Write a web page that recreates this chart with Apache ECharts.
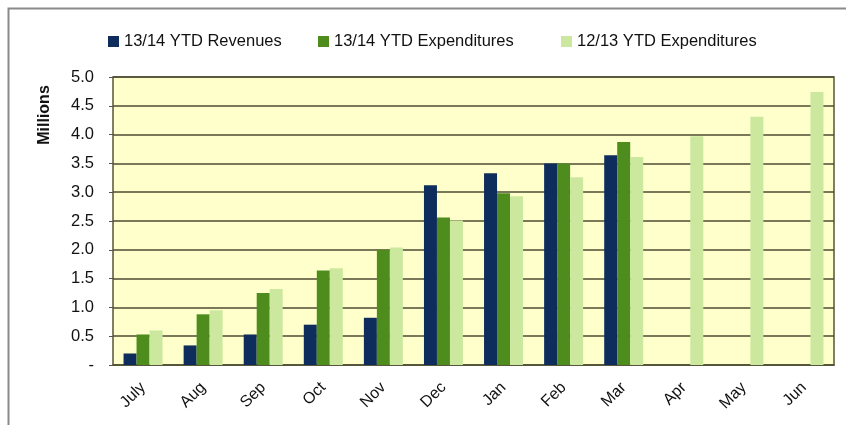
<!DOCTYPE html>
<html>
<head>
<meta charset="utf-8">
<script src="https://cdn.jsdelivr.net/npm/echarts@6/dist/echarts.min.js"></script>
<style>
html,body{margin:0;padding:0;background:#fff;}
#c{width:846px;height:425px;}
</style>
</head>
<body>
<div id="c"></div>
<script>
var categories = ['July','Aug','Sep','Oct','Nov','Dec','Jan','Feb','Mar','Apr','May','Jun'];
var revenues1314 = [0.20,0.34,0.53,0.70,0.82,3.12,3.33,3.50,3.64,null,null,null];
var expend1314 = [0.53,0.88,1.25,1.64,2.00,2.56,2.98,3.50,3.87,null,null,null];
var expend1213 = [0.60,0.95,1.32,1.68,2.04,2.51,2.93,3.26,3.61,3.97,4.31,4.74];
var seriesNames = ['13/14 YTD Revenues','13/14 YTD Expenditures','12/13 YTD Expenditures'];
var yTicks = {min:0,max:5,interval:0.5};

var FONT = '"Liberation Sans", Arial, sans-serif';
var legendLefts = [103, 313, 556];
var chart = echarts.init(document.getElementById('c'), null, {renderer:'canvas'});
chart.setOption({
  animation:false,
  backgroundColor:'#ffffff',
  textStyle:{fontFamily:FONT},
  graphic:[
    {type:'rect', shape:{x:8.5,y:8.5,width:846,height:430}, style:{fill:'none',stroke:'#8a8a8a',lineWidth:2}, z:-10},
    {type:'text', x:45, y:115, rotation:Math.PI/2, style:{text:'Millions', font:'bold 16px '+FONT, fill:'#111', align:'center', verticalAlign:'middle'}}
  ],
  legend:seriesNames.map(function(n,i){
    return {
      left:legendLefts[i], top:28, itemWidth:11, itemHeight:11, itemGap:0, icon:'rect',
      textStyle:{fontSize:16.5, color:'#111', fontFamily:FONT},
      data:[n]
    };
  }),
  grid:{left:113, top:77, right:12, bottom:60, show:true, backgroundColor:'#ffffcc', borderColor:'#55553a', borderWidth:1.5, containLabel:false},
  xAxis:{
    type:'category', data:categories,
    axisLine:{lineStyle:{color:'#55553a',width:1.5}},
    axisTick:{show:false},
    axisLabel:{rotate:45, fontSize:16, color:'#111', margin:20, fontFamily:FONT}
  },
  yAxis:{
    type:'value', min:yTicks.min, max:yTicks.max, interval:yTicks.interval,
    axisLine:{show:false},
    axisTick:{show:true, length:4, lineStyle:{color:'#55553a'}},
    splitLine:{lineStyle:{color:'#4d4d33',width:1.5}},
    axisLabel:{fontSize:16.5, color:'#111', margin:19, fontFamily:FONT,
      formatter:function(v){return v===0?'-':v.toFixed(1);}}
  },
  series:[
    {name:seriesNames[0], type:'bar', data:revenues1314, barWidth:13, barGap:'0%', itemStyle:{color:'#0f2d5c'}},
    {name:seriesNames[1], type:'bar', data:expend1314, barWidth:13, barGap:'0%', itemStyle:{color:'#4f8c1e'}},
    {name:seriesNames[2], type:'bar', data:expend1213, barWidth:13, barGap:'0%', itemStyle:{color:'#cbe89e'}}
  ]
});
</script>
</body>
</html>
